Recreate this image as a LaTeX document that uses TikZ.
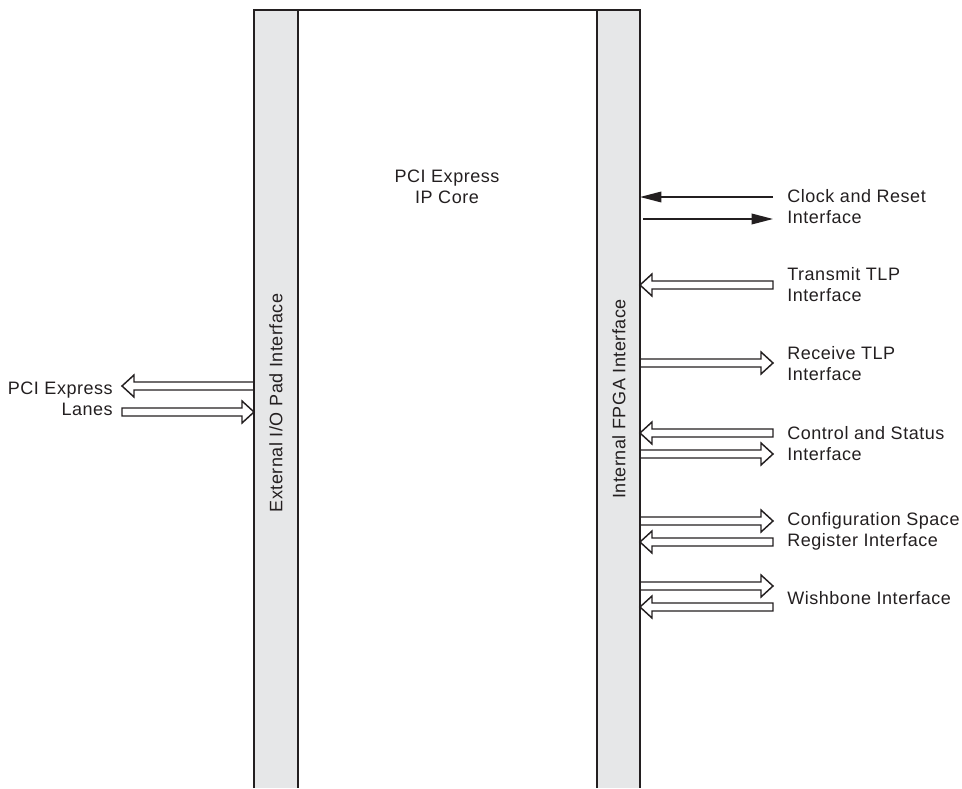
\documentclass[tikz,border=0pt]{standalone}
\usepackage{fontspec}
\setmainfont{Liberation Sans}[LetterSpace=3]
\usetikzlibrary{calc,arrows.meta}
\definecolor{coreline}{RGB}{35,31,32}
\definecolor{coregray}{RGB}{230,231,232}

\tikzset{
  bus/.style={draw=coreline, line width=1.1pt, line join=miter,
    to path={let \p1=(\tikztostart), \p2=(\tikztotarget),
      \p3=($(\tikztotarget)!9pt!(\tikztostart)$) in
      (\x1,\y1+3pt) -- (\x3,\y1+3pt) -- (\x3,\y1+8.25pt) -- (\x2,\y2)
      -- (\x3,\y1-8.25pt) -- (\x3,\y1-3pt) -- (\x1,\y1-3pt) -- cycle}},
  sig/.style={draw=coreline, line width=1pt, -{Triangle[length=16pt,width=8pt]}},
  lbl/.style={anchor=west, align=left, inner sep=0pt, text=coreline}
}

\begin{document}
\begin{tikzpicture}[x=0.75pt, y=-0.75pt, every node/.style={font=\fontsize{13.5}{15.75}\selectfont}]
  \useasboundingbox (0,0) rectangle (962,788);
  % core block, open at the bottom
  \fill[coregray] (254,10) rectangle (298,788);
  \fill[coregray] (597,10) rectangle (640,788);
  \draw[coreline, line width=1.4pt, line join=miter] (254,788) -- (254,10) -- (640,10) -- (640,788);
  \draw[coreline, line width=1.4pt] (298,10) -- (298,788);
  \draw[coreline, line width=1.4pt] (597,10) -- (597,788);

  \node[align=center, inner sep=0pt, text=coreline] (core) at (447,187) {PCI Express\\ IP Core};
  \node[rotate=90, inner sep=0pt, text=coreline] (padlbl) at (276,403) {External I/O Pad Interface};
  \node[rotate=90, inner sep=0pt, text=coreline] (fpgalbl) at (619,399) {Internal FPGA Interface};
  \node[anchor=east, align=right, inner sep=0pt, text=coreline] (lanes) at (113,399) {PCI Express\\Lanes};

  \coordinate (pad) at (254,0);
  \coordinate (fpga) at (640,0);
  \coordinate (fpgagap) at (643,0);
  \coordinate (lanesend) at (122,0);
  \coordinate (ext) at (773,0);

  % interface labels
  \node[lbl] (clk) at (787,207) {Clock and Reset\\Interface};
  \node[lbl] (tx) at (787,285) {Transmit TLP\\Interface};
  \node[lbl] (rx) at (787,364) {Receive TLP\\Interface};
  \node[lbl] (ctl) at (787,444) {Control and Status\\Interface};
  \node[lbl] (cfg) at (787,531) {Configuration Space\\Register Interface};
  \node[lbl] (wb) at (787,598) {Wishbone Interface};

  % lanes
  \draw[bus] (pad |- 0,386) to (lanesend |- 0,386);
  \draw[bus] (lanesend |- 0,412) to (pad |- 0,412);

  % fpga side
  \draw[sig] (ext |- 0,197) -- (fpga |- 0,197);
  \draw[sig] (fpgagap |- 0,219) -- (ext |- 0,219);
  \draw[bus] (ext |- 0,285) to (fpga |- 0,285);
  \draw[bus] (fpga |- 0,363) to (ext |- 0,363);
  \draw[bus] (ext |- 0,433) to (fpga |- 0,433);
  \draw[bus] (fpga |- 0,454) to (ext |- 0,454);
  \draw[bus] (fpga |- 0,521) to (ext |- 0,521);
  \draw[bus] (ext |- 0,542) to (fpga |- 0,542);
  \draw[bus] (fpga |- 0,586) to (ext |- 0,586);
  \draw[bus] (ext |- 0,607) to (fpga |- 0,607);
\end{tikzpicture}
\end{document}
